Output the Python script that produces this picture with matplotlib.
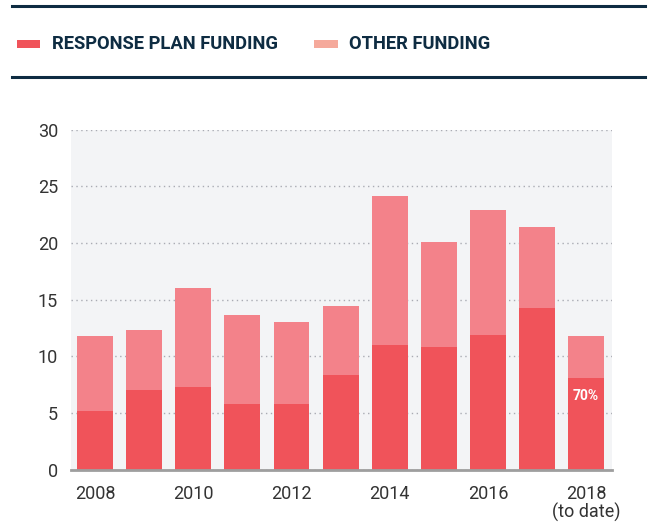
import matplotlib
matplotlib.use("Agg")
import matplotlib.pyplot as plt
from matplotlib.lines import Line2D
from matplotlib.patches import Rectangle

years = [2008, 2009, 2010, 2011, 2012, 2013, 2014, 2015, 2016, 2017, 2018]
plan_funding = [5.2, 7.0, 7.3, 5.8, 5.8, 8.35, 11.0, 10.8, 11.9, 14.25, 8.1]
total_funding = [11.8, 12.3, 16.0, 13.65, 13.0, 14.45, 24.15, 20.1, 22.9, 21.4, 11.8]
other_funding = [t - p for t, p in zip(total_funding, plan_funding)]
tick_years = [2008, 2010, 2012, 2014, 2016, 2018]
tick_labels = ["2008", "2010", "2012", "2014", "2016", "2018\n(to date)"]
yticks = [0, 5, 10, 15, 20, 25, 30]

DARK = "#F0535A"
LIGHT = "#F3828A"
LEGEND_LIGHT = "#F5A99B"
NAVY = "#0E2C42"
TXT = "#333333"

plt.rcParams['font.family'] = ['Roboto', 'DejaVu Sans']

fig = plt.figure(figsize=(6.49, 5.26), dpi=100)
ax = fig.add_axes([70.7 / 649, 56.3 / 526, 541 / 649, 340 / 526])
ax.set_facecolor("#F3F4F6")

x = list(range(len(years)))
ax.bar(x, plan_funding, width=0.73, color=DARK, zorder=3)
ax.bar(x, other_funding, bottom=plan_funding, width=0.73, color=LIGHT, zorder=3)

ax.set_xlim(-0.495, 10.52)
ax.set_ylim(0, 30)
ax.set_yticks(yticks)
ax.set_yticklabels([str(v) for v in yticks])
ax.set_xticks([years.index(y) for y in tick_years])
ax.set_xticklabels(tick_labels, linespacing=1.0, va="top")
ax.tick_params(axis="y", length=0, pad=9, labelsize=13, colors=TXT)
ax.tick_params(axis="x", length=0, pad=11, labelsize=13, colors=TXT)

ax.grid(axis="y", color="#A9ABB3", linestyle=(0, (1, 2.5)), linewidth=1, zorder=1)
for s in ["top", "right", "left"]:
    ax.spines[s].set_visible(False)
ax.spines["bottom"].set_color("#9E9E9E")
ax.spines["bottom"].set_linewidth(2)
ax.spines["bottom"].set_zorder(4)

# share label on the last bar
ax.text(x[-1], 6.5, "70%", color="white", fontsize=10, fontweight="bold",
        ha="center", va="center", zorder=5)

# header rules and legend
for yy in [1 - 6 / 526, 1 - 77 / 526]:
    fig.add_artist(Line2D([12 / 649, 645 / 649], [yy, yy], color=NAVY, linewidth=2.2))
ly = 1 - 44 / 526
fig.add_artist(Rectangle((17 / 649, ly - 4 / 526), 23 / 649, 8 / 526, color=DARK, lw=0))
fig.text(52 / 649, ly, "RESPONSE PLAN FUNDING", color=NAVY, fontsize=13.2,
         fontweight="bold", va="center", ha="left")
fig.add_artist(Rectangle((314 / 649, ly - 4 / 526), 24 / 649, 8 / 526, color=LEGEND_LIGHT, lw=0))
fig.text(349 / 649, ly, "OTHER FUNDING", color=NAVY, fontsize=13.2,
         fontweight="bold", va="center", ha="left")

fig.savefig("out.png", dpi=100)
